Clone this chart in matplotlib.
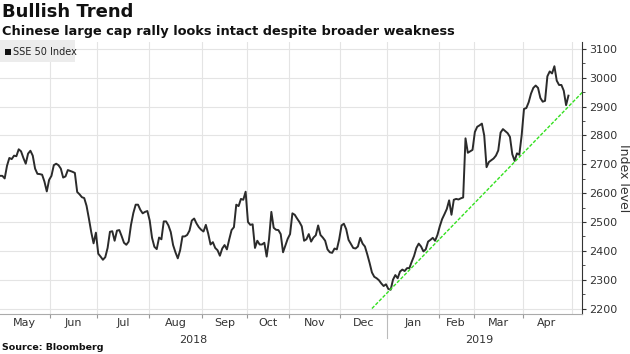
import numpy as np
import pandas as pd
import matplotlib
matplotlib.use("Agg")
import matplotlib.pyplot as plt
from matplotlib.patches import Rectangle
from matplotlib.transforms import blended_transform_factory
from matplotlib.ticker import MultipleLocator

# ---- data: SSE 50 Index daily closes, grouped by month ----
may18 = [2660, 2660, 2651, 2695, 2722, 2718, 2730, 2728, 2752, 2745, 2722, 2702,
         2737, 2747, 2730, 2685, 2667, 2666, 2664, 2640, 2606, 2646]
jun18 = [2660, 2697, 2702, 2697, 2685, 2654, 2658, 2680, 2677, 2674, 2670, 2604,
         2596, 2586, 2583, 2556, 2512, 2465, 2426, 2463]
jul18 = [2390, 2380, 2369, 2378, 2410, 2466, 2468, 2435, 2470, 2472, 2451, 2428,
         2421, 2432, 2490, 2531, 2560, 2560, 2542, 2530, 2535, 2538]
aug18 = [2505, 2445, 2414, 2406, 2446, 2440, 2502, 2502, 2488, 2465, 2420, 2395,
         2374, 2402, 2450, 2450, 2455, 2470, 2505, 2512, 2495, 2482, 2473]
sep18 = [2467, 2490, 2460, 2422, 2430, 2410, 2402, 2383, 2408, 2420, 2405, 2440,
         2472, 2482, 2560, 2555, 2580, 2577, 2605]
oct18 = [2500, 2490, 2492, 2410, 2435, 2422, 2422, 2428, 2380, 2440, 2535, 2480,
         2473, 2472, 2458, 2395, 2418, 2442]
nov18 = [2458, 2530, 2525, 2512, 2500, 2485, 2435, 2440, 2458, 2432, 2446, 2454,
         2488, 2455, 2446, 2435, 2405, 2395, 2393, 2408, 2405, 2440]
dec18 = [2488, 2494, 2475, 2438, 2424, 2410, 2408, 2415, 2445, 2425, 2415, 2388,
         2358, 2325, 2310, 2305, 2298, 2287, 2278, 2284]
jan19 = [2268, 2265, 2300, 2316, 2305, 2328, 2335, 2330, 2340, 2340, 2362, 2382,
         2410, 2425, 2415, 2398, 2405, 2432, 2438, 2445, 2435, 2455]
feb19 = [2485, 2510, 2527, 2545, 2575, 2525, 2577, 2580, 2578, 2582, 2585, 2790,
         2740, 2745, 2750]
mar19 = [2812, 2830, 2835, 2841, 2800, 2690, 2708, 2714, 2720, 2730, 2748, 2810,
         2822, 2815, 2808, 2795, 2735, 2712, 2738, 2733, 2800]
apr19 = [2892, 2895, 2915, 2945, 2965, 2973, 2965, 2930, 2917, 2920, 3005, 3022,
         3015, 3040, 2990, 2975, 2975, 2955, 2905, 2938]

holidays = ["2018-06-18", "2018-09-24", "2018-10-01", "2018-10-02", "2018-10-03",
            "2018-10-04", "2018-10-05", "2018-12-31", "2019-01-01", "2019-02-04",
            "2019-02-05", "2019-02-06", "2019-02-07", "2019-02-08", "2019-04-05"]

trend_x_dates = ["2018-12-20", "2019-05-07"]
trend_y = [2200, 2950]

month_labels = ["May", "Jun", "Jul", "Aug", "Sep", "Oct", "Nov", "Dec",
                "Jan", "Feb", "Mar", "Apr"]
year_labels = ["2018", "2019"]
y_ticks = [2200, 2300, 2400, 2500, 2600, 2700, 2800, 2900, 3000, 3100]

title = "Bullish Trend"
subtitle = "Chinese large cap rally looks intact despite broader weakness"
series_name = "SSE 50 Index"
y_label = "Index level"
source = "Source: Bloomberg"

values = (may18 + jun18 + jul18 + aug18 + sep18 + oct18 + nov18 + dec18 +
          jan19 + feb19 + mar19 + apr19)
dates = pd.bdate_range("2018-05-02", "2019-04-29")
dates = dates[~dates.isin(pd.to_datetime(holidays))]
n = min(len(values), len(dates))
values = np.array(values[:n], dtype=float)
dates = dates[:n]
x = np.arange(n)

# month boundaries / centers in trading-day index
periods = dates.to_period("M")
month_first = [i for i in range(n) if i == 0 or periods[i] != periods[i - 1]]
month_bounds = month_first[1:] + [n]
centers = [(s + e - 1) / 2 for s, e in zip(month_first, month_bounds)]
grid_pos = [b - 0.5 for b in month_first[1:]] + [n + 0.5]
jan_idx = month_first[8] - 0.5


def date_to_idx(d):
    d = pd.Timestamp(d)
    if d <= dates[-1]:
        return float(np.searchsorted(dates, d))
    extra = len(pd.bdate_range(dates[-1], d)) - 1
    return float(n - 1 + extra)


tx = [date_to_idx(d) for d in trend_x_dates]

W, H = 630, 354
fig = plt.figure(figsize=(W / 100, H / 100), dpi=100)
fig.patch.set_facecolor("white")

ax_left, ax_right, ax_top, ax_bot = 0, 582, 42, 314
ax = fig.add_axes([ax_left / W, (H - ax_bot) / H, (ax_right - ax_left) / W,
                   (ax_bot - ax_top) / H])

ax.plot(x, values, color="#2b2b2b", lw=1.4, zorder=3)
ax.plot(tx, trend_y, color="#33e01f", lw=1.0, ls=(0, (2.5, 1.2)), zorder=4)

ax.set_xlim(0, 248.8)
ax.set_ylim(2181, 3124)

for g in grid_pos:
    ax.axvline(g, color="#e4e4e4", lw=0.8, zorder=1)
for yt in y_ticks:
    ax.axhline(yt, color="#e4e4e4", lw=0.8, zorder=1)

ax.yaxis.tick_right()
ax.set_yticks(y_ticks)
ax.set_yticklabels([str(v) for v in y_ticks])
ax.yaxis.set_minor_locator(MultipleLocator(50))
ax.tick_params(axis="y", which="major", length=3, color="#333333",
               labelsize=8, labelcolor="#333333", pad=2)
ax.tick_params(axis="y", which="minor", length=2, color="#333333")
ax.yaxis.set_label_position("right")
ax.set_ylabel(y_label, rotation=-90, fontsize=9, color="#333333", labelpad=9)

ax.set_xticks(grid_pos[:-1])
ax.set_xticklabels([])
ax.set_xticks(centers, minor=True)
ax.set_xticklabels(month_labels, minor=True)
ax.tick_params(axis="x", which="major", length=3, color="#999999")
ax.tick_params(axis="x", which="minor", length=0, labelsize=8,
               labelcolor="#333333", pad=3)

for s in ["top", "left"]:
    ax.spines[s].set_visible(False)
ax.spines["right"].set_color("#333333")
ax.spines["right"].set_linewidth(0.8)
ax.spines["bottom"].set_color("#aaaaaa")
ax.spines["bottom"].set_linewidth(0.8)

trans = blended_transform_factory(ax.transData, ax.transAxes)
ax.plot([jan_idx, jan_idx], [0, -0.09], transform=trans, color="#bbbbbb",
        lw=0.8, clip_on=False)
y2018 = (0 + jan_idx) / 2
y2019 = (jan_idx + n) / 2
ax.text(y2018, -0.095, year_labels[0], transform=trans, ha="center", va="center",
        fontsize=8, color="#333333")
ax.text(y2019, -0.095, year_labels[1], transform=trans, ha="center", va="center",
        fontsize=8, color="#333333")

# titles
fig.text(2 / W, 1 - 12 / H, title, fontsize=13, fontweight="bold",
         color="#111111", va="center", ha="left")
fig.text(2 / W, 1 - 31 / H, subtitle, fontsize=9.3, fontweight="bold",
         color="#111111", va="center", ha="left")
fig.text(2 / W, 1 - 347 / H, source, fontsize=6.8, fontweight="bold",
         color="#111111", va="center", ha="left")

# legend box
fig.patches.append(Rectangle((0, 1 - 62 / H), 75 / W, 22 / H,
                             transform=fig.transFigure, facecolor="#ececec",
                             edgecolor="none", zorder=5))
fig.patches.append(Rectangle((5 / W, 1 - 55 / H), 6 / W, 6 / H,
                             transform=fig.transFigure, facecolor="#111111",
                             edgecolor="none", zorder=6))
fig.text(13 / W, 1 - 52 / H, series_name, fontsize=7, color="#222222",
         va="center", ha="left", zorder=7)

fig.savefig("out.png", dpi=100)
